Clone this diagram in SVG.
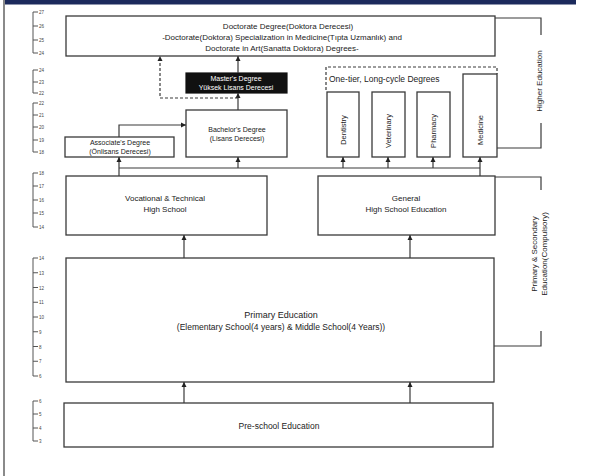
<svg xmlns="http://www.w3.org/2000/svg" width="590" height="476" viewBox="0 0 590 476">
<defs>
<marker id="ah" markerUnits="userSpaceOnUse" markerWidth="6" markerHeight="6" refX="5" refY="3" orient="auto">
<path d="M0,0.5 L5,3 L0,5.5 Z" fill="#222"/>
</marker>
<style>
.bx{fill:#fff;stroke:#3a3a3a;stroke-width:1.3}
.ln{fill:none;stroke:#3a3a3a;stroke-width:1.2}
.ds{fill:none;stroke:#3a3a3a;stroke-width:1.2;stroke-dasharray:3 2}
.t{font-family:"Liberation Sans",Arial,sans-serif;font-size:7.5px;fill:#222;text-anchor:middle}
.s{font-family:"Liberation Sans",Arial,sans-serif;font-size:4.5px;fill:#444}
.sc{fill:none;stroke:#555;stroke-width:1}
</style>
</defs>
<rect width="590" height="476" fill="#fff"/>
<rect x="5" y="0" width="571" height="4.5" fill="#1c2a5c"/>
<line x1="4" y1="0" x2="4" y2="476" stroke="#8a8a8a" stroke-width="2"/>

<g id="scale">
<path class="sc" d="M38,12 H33 V53 H38 M33,26 H38 M33,40 H38"/>
<path class="sc" d="M38,70 H33 V93 H38 M33,82 H38"/>
<path class="sc" d="M38,103 H33 V152 H38 M33,115 H38 M33,127 H38 M33,140 H38"/>
<path class="sc" d="M38,173 H33 V227 H38 M33,186 H38 M33,200 H38 M33,213 H38"/>
<path class="sc" d="M38,258 H33 V376 H38 M33,272.75 H38 M33,287.5 H38 M33,302.25 H38 M33,317 H38 M33,331.75 H38 M33,346.5 H38 M33,361.25 H38"/>
<path class="sc" d="M38,401 H33 V441 H38 M33,414 H38 M33,428 H38"/>
<text class="s" x="39" y="14">27</text><text class="s" x="39" y="28">26</text><text class="s" x="39" y="42">25</text><text class="s" x="39" y="55">24</text>
<text class="s" x="39" y="72">24</text><text class="s" x="39" y="84">23</text><text class="s" x="39" y="95">22</text>
<text class="s" x="39" y="105">22</text><text class="s" x="39" y="117">21</text><text class="s" x="39" y="129">20</text><text class="s" x="39" y="142">19</text><text class="s" x="39" y="154">18</text>
<text class="s" x="39" y="175">18</text><text class="s" x="39" y="188">17</text><text class="s" x="39" y="202">16</text><text class="s" x="39" y="215">15</text><text class="s" x="39" y="229">14</text>
<text class="s" x="39" y="260">14</text><text class="s" x="39" y="275">13</text><text class="s" x="39" y="290">12</text><text class="s" x="39" y="304">11</text><text class="s" x="39" y="319">10</text><text class="s" x="39" y="334">9</text><text class="s" x="39" y="349">8</text><text class="s" x="39" y="363">7</text><text class="s" x="39" y="378">6</text>
<text class="s" x="39" y="403">6</text><text class="s" x="39" y="416">5</text><text class="s" x="39" y="430">4</text><text class="s" x="39" y="443">3</text>
</g>

<g id="doctorate">
<rect class="bx" x="66" y="16" width="429" height="40"/>
<text class="t" x="288" y="29" style="font-size:8px">Doctorate Degree(Doktora Derecesi)</text>
<text class="t" x="282" y="40" style="font-size:8px">-Doctorate(Doktora) Specialization in Medicine(Tıpta Uzmanlık) and</text>
<text class="t" x="282" y="51" style="font-size:8px">Doctorate in Art(Sanatta Doktora) Degrees-</text>
</g>

<g id="masters">
<rect x="186" y="73" width="101" height="20" fill="#111" stroke="#111" stroke-width="1.2"/>
<text class="t" x="236" y="81" style="fill:#fff;font-size:7px">Master's Degree</text>
<text class="t" x="236" y="90" style="fill:#fff;font-size:7px">Yüksek Lisans Derecesi</text>
</g>

<g id="bachelors">
<rect class="bx" x="186" y="110" width="101" height="47"/>
<text class="t" x="237" y="132" style="font-size:7px">Bachelor's Degree</text>
<text class="t" x="237" y="141" style="font-size:7px">(Lisans Derecesi)</text>
</g>

<g id="associates">
<rect class="bx" x="65" y="137" width="109" height="20"/>
<text class="t" x="120" y="145" style="font-size:7px">Associate's Degree</text>
<text class="t" x="120" y="154" style="font-size:7px">(Önlisans Derecesi)</text>
</g>

<g id="long-cycle">
<path class="ds" d="M326,90 V67 H497 V74"/>
<text class="t" x="329" y="82" style="text-anchor:start;font-size:8.5px">One-tier, Long-cycle Degrees</text>
</g>
<g id="dentistry">
<rect class="bx" x="327" y="92" width="32" height="65"/>
<text class="t" transform="translate(345.5,130) rotate(-90)">Dentistry</text>
</g>
<g id="veterinary">
<rect class="bx" x="372" y="92" width="33" height="65"/>
<text class="t" transform="translate(391,131) rotate(-90)">Veterinary</text>
</g>
<g id="pharmacy">
<rect class="bx" x="417" y="92" width="33" height="65"/>
<text class="t" transform="translate(436,131) rotate(-90)">Pharmacy</text>
</g>
<g id="medicine">
<rect class="bx" x="463" y="74" width="34" height="83"/>
<text class="t" transform="translate(483,130) rotate(-90)">Medicine</text>
</g>

<g id="vocational">
<rect class="bx" x="66" y="176" width="201" height="59"/>
<text class="t" x="165" y="201" style="font-size:8px">Vocational &amp; Technical</text>
<text class="t" x="165" y="212" style="font-size:8px">High School</text>
</g>

<g id="general">
<rect class="bx" x="318" y="176" width="177" height="59"/>
<text class="t" x="406" y="201" style="font-size:8px">General</text>
<text class="t" x="406" y="212" style="font-size:8px">High School Education</text>
</g>

<g id="primary">
<rect class="bx" x="66" y="258" width="428" height="124"/>
<text class="t" x="281" y="318" style="font-size:9px">Primary Education</text>
<text class="t" x="281" y="330" style="font-size:8.5px">(Elementary School(4 years) &amp; Middle School(4 Years))</text>
</g>

<g id="preschool">
<rect class="bx" x="64" y="403" width="429" height="44"/>
<text class="t" x="279" y="429" style="font-size:8.5px">Pre-school Education</text>
</g>

<g id="higher-education-label">
<path class="ln" d="M495,18 H541 V35 M541,123 V148 H497"/>
<text class="t" transform="translate(542,81) rotate(-90)" style="font-size:8px">Higher Education</text>
</g>

<g id="compulsory-label">
<path class="ln" d="M495,177 H541 V190 M541,331 V346 H494"/>
<text class="t" transform="translate(537,254) rotate(-90)" style="font-size:8px">Primary &amp; Secondary</text>
<text class="t" transform="translate(547,254) rotate(-90)" style="font-size:8px">Education(Compulsory)</text>
</g>

<g id="connectors">
<path class="ln" d="M119,168 H480"/>
<path class="ln" d="M119,176 V157" marker-end="url(#ah)"/>
<path class="ln" d="M480,176 V157" marker-end="url(#ah)"/>
<path class="ln" d="M238,168 V157" marker-end="url(#ah)"/>
<path class="ln" d="M343,168 V157" marker-end="url(#ah)"/>
<path class="ln" d="M388,168 V157" marker-end="url(#ah)"/>
<path class="ln" d="M433,168 V157" marker-end="url(#ah)"/>
<path class="ln" d="M184,258 V235" marker-end="url(#ah)"/>
<path class="ln" d="M410,258 V235" marker-end="url(#ah)"/>
<path class="ln" d="M184,403 V382" marker-end="url(#ah)"/>
<path class="ln" d="M410,403 V382" marker-end="url(#ah)"/>
<path class="ln" d="M119,137 V125 H186" marker-end="url(#ah)"/>
<path class="ln" d="M238,110 V93" marker-end="url(#ah)"/>
<path class="ln" d="M238,73 V56" marker-end="url(#ah)"/>
<path class="ds" d="M238,98 H160 V56" marker-end="url(#ah)"/>
</g>
</svg>
